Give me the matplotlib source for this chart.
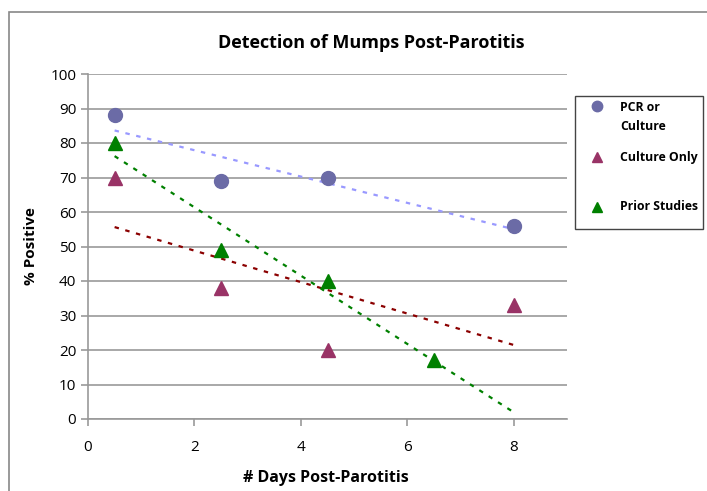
import numpy as np
import matplotlib
matplotlib.use("Agg")
import matplotlib.pyplot as plt
from matplotlib.lines import Line2D
from matplotlib.patches import Rectangle

plt.rcParams['font.family'] = ['Open Sans', 'DejaVu Sans']

# Data
series_names = ["PCR or\nCulture", "Culture Only", "Prior Studies"]
pcr_x = [0.5, 2.5, 4.5, 8]
pcr_y = [88, 69, 70, 56]
cult_x = [0.5, 2.5, 4.5, 8]
cult_y = [70, 38, 20, 33]
prior_x = [0.5, 2.5, 4.5, 6.5]
prior_y = [80, 49, 40, 17]
x_ticks = [0, 2, 4, 6, 8]
y_ticks = list(range(0, 101, 10))

W, H = 707, 491
fig = plt.figure(figsize=(W/100, H/100), dpi=100)
ax = fig.add_axes([88/W, 1-419/H, (567-88)/W, (419-74)/H])

def fx(px):
    return px / W

def fy(py):
    return 1 - py / H

# outer chart border (top and left visible)
fig.add_artist(Rectangle((fx(9), -0.1), 1.2, fy(12) + 0.1, transform=fig.transFigure,
                         fill=False, edgecolor='#888888', linewidth=1.2))

ax.set_xlim(0, 9)
ax.set_ylim(0, 100)
ax.set_xticks(x_ticks)
ax.set_yticks(y_ticks)
ax.yaxis.grid(True, color='#999999', linewidth=1.2)
ax.set_axisbelow(True)
for s in ['top', 'right']:
    ax.spines[s].set_visible(False)
for s in ['left', 'bottom']:
    ax.spines[s].set_color('#999999')
    ax.spines[s].set_linewidth(1.2)
ax.tick_params(axis='both', colors='#999999', labelcolor='black', labelsize=11, length=5, width=1.2)
ax.tick_params(axis='x', pad=10)

c_pcr = '#6B6BA6'
c_cult = '#993366'
c_prior = '#008000'

ax.plot(pcr_x, pcr_y, 'o', color=c_pcr, markersize=10, linestyle='none', zorder=3)
ax.plot(cult_x, cult_y, '^', color=c_cult, markersize=10, linestyle='none', zorder=3)
ax.plot(prior_x, prior_y, '^', color=c_prior, markersize=10, linestyle='none', zorder=3)

# linear trendlines extended from 0.5 to 8
tx = np.array([0.5, 8])
for xs, ys, col in [(pcr_x, pcr_y, '#9999FF'), (cult_x, cult_y, '#8B0000'), (prior_x, prior_y, c_prior)]:
    m, b = np.polyfit(xs, ys, 1)
    ax.plot(tx, m * tx + b, color=col, linestyle=(0, (2, 3)), linewidth=1.6, zorder=2)

fig.text(fx(371), fy(43), "Detection of Mumps Post-Parotitis", ha='center', va='center',
         fontsize=13, fontweight='bold')
ax.set_ylabel("% Positive", fontsize=11, fontweight='bold')
ax.yaxis.set_label_coords(-0.105, 0.5)
fig.text(fx(326), fy(478), "# Days Post-Parotitis", ha='center', va='center',
         fontsize=11.5, fontweight='bold')

# legend box drawn manually
fig.add_artist(Rectangle((fx(575), fy(229)), (703-575)/W, (229-96)/H, transform=fig.transFigure,
                         fill=False, edgecolor='#444444', linewidth=1.0))
markers = ['o', '^', '^']
colors = [c_pcr, c_cult, c_prior]
marker_y = [106, 157, 207]
for mk, col, my in zip(markers, colors, marker_y):
    fig.add_artist(Line2D([fx(597)], [fy(my)], marker=mk, color=col, markersize=7.5,
                          linestyle='none', transform=fig.transFigure))
label_lines = [(series_names[0].split("\n")[0], 108), (series_names[0].split("\n")[1], 127),
               (series_names[1], 158), (series_names[2], 207)]
for txt, ty in label_lines:
    fig.text(fx(620), fy(ty), txt, ha='left', va='center', fontsize=8.8, fontweight='bold')

fig.savefig("out.png", dpi=100)
